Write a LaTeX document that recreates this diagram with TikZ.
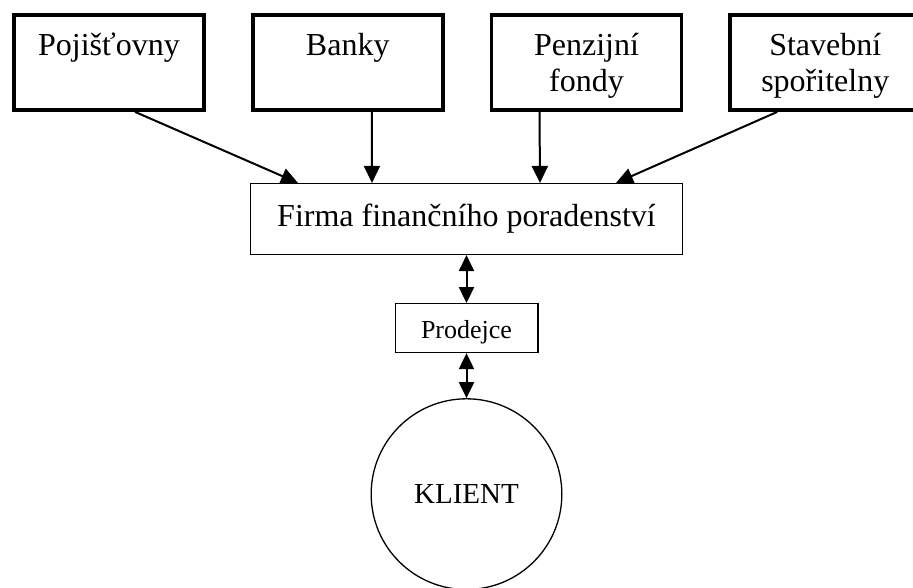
\documentclass[tikz,border=0pt]{standalone}
\usepackage{fontspec}
\setmainfont{Liberation Serif}
\usetikzlibrary{positioning, arrows.meta}

\tikzset{
    zdroj/.style={draw, line width=3.75pt, text width=186pt, inner xsep=2pt, inner ysep=0pt,
        align=center, text height=40.7pt, text depth=54.3pt, font=\fontsize{32}{36}\selectfont},
    firmabox/.style={draw, line width=1.3pt, minimum width=431.6pt, inner sep=0pt,
        text height=43.4pt, text depth=27.4pt, font=\fontsize{32}{36}\selectfont},
    prodbox/.style={draw, line width=1.3pt, minimum width=142.7pt, inner sep=0pt,
        text height=34.4pt, text depth=14.4pt, font=\fontsize{26}{30}\selectfont},
    klientkruh/.style={draw, circle, line width=1.3pt, minimum size=190.7pt, inner sep=0pt,
        font=\fontsize{29}{33}\selectfont}
}

\begin{document}
\begin{tikzpicture}[x=1pt, y=-1pt, node distance=48pt and 45pt, >={Triangle[length=17pt, width=16pt]}, line width=2pt]
    \useasboundingbox (0,0) rectangle (913,588);
    \clip (0,0) rectangle (913,588);

    % Nodes
    \node[zdroj] (poj) at (109,62.5) {Pojišťovny};
    \node[zdroj, right=of poj] (banky) {Banky};
    \node[zdroj, right=of banky] (penz) {Penzijní\\fondy};
    \node[zdroj, right=of penz] (stav) {Stavební\\spořitelny};
    \node[firmabox] (firma) at (466.5,219) {Firma finančního poradenství};
    \node[prodbox, below=of firma] (prod) {Prodejce};
    \node[klientkruh, below=45pt of prod] (klient) {KLIENT};

    % Paths
    \path[->] ([xshift=26pt]poj.south) edge ([xshift=-168.5pt]firma.north);
    \path[->] ([xshift=24pt]banky.south) edge ([xshift=-94.5pt]firma.north);
    \path[->] ([xshift=-47pt]penz.south) edge ([xshift=73.5pt]firma.north);
    \path[->] ([xshift=-48pt]stav.south) edge ([xshift=149.5pt]firma.north);

    \path[{Triangle[length=16pt, width=15pt]}-{Triangle[length=16pt, width=15pt]}] (firma) edge (prod);
    \path[{Triangle[length=16pt, width=15pt]}-{Triangle[length=16pt, width=15pt]}] (prod) edge (klient);
\end{tikzpicture}
\end{document}
